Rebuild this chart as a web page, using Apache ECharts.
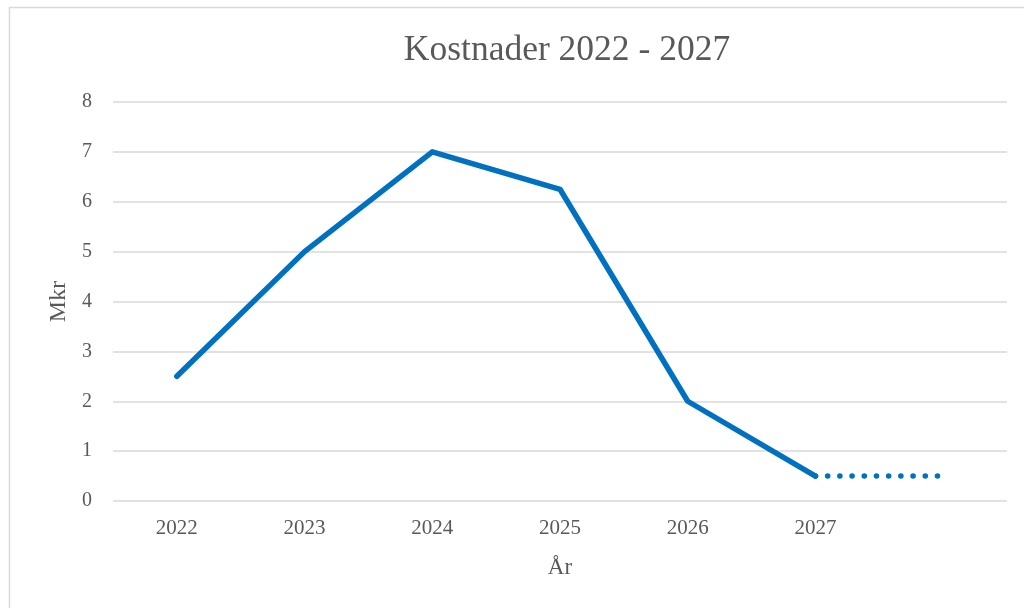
<!DOCTYPE html>
<html>
<head>
<meta charset="utf-8">
<script src="https://cdn.jsdelivr.net/npm/echarts@6/dist/echarts.min.js"></script>
<style>html,body{margin:0;padding:0;background:#fff}#c{width:1024px;height:608px}</style>
</head>
<body>
<div id="c"></div>
<script>
const categories = ['2022', '2023', '2024', '2025', '2026', '2027', ''];
const costs = [2.5, 5, 7, 6.25, 2, 0.5, null];
const projection = [null, null, null, null, null, 0.5, 0.5];
const yTicks = [0, 8, 1];

const font = 'Liberation Serif';
const grey = '#595959';
const chart = echarts.init(document.getElementById('c'));
chart.setOption({
  animation: false,
  backgroundColor: '#fff',
  graphic: [{
    type: 'rect', shape: {x: 9.5, y: 7.5, width: 1040, height: 640},
    style: {fill: 'none', stroke: '#d9d9d9', lineWidth: 1.5}, silent: true
  }],
  title: {
    text: 'Kostnader 2022 - 2027', left: 562, top: 28, textAlign: 'center',
    textStyle: {fontFamily: font, fontSize: 35.5, fontWeight: 'normal', color: grey}
  },
  grid: {left: 113, right: 17, top: 102, bottom: 107},
  xAxis: {
    type: 'category', data: categories, boundaryGap: true,
    name: 'År', nameLocation: 'middle', nameGap: 55,
    nameTextStyle: {fontFamily: font, fontSize: 23, color: grey},
    axisLine: {show: false}, axisTick: {show: false},
    axisLabel: {fontFamily: font, fontSize: 21, color: grey, margin: 17}
  },
  yAxis: {
    type: 'value', min: yTicks[0], max: yTicks[1], interval: yTicks[2],
    name: 'Mkr', nameLocation: 'middle', nameGap: 37,
    nameTextStyle: {fontFamily: font, fontSize: 24, color: grey},
    axisLine: {show: false}, axisTick: {show: false},
    axisLabel: {fontFamily: font, fontSize: 20, color: grey, margin: 21},
    splitLine: {lineStyle: {color: '#d9d9d9', width: 1.5}}
  },
  series: [{
    type: 'line', data: costs, symbol: 'none', connectNulls: false,
    lineStyle: {color: '#0070C0', width: 5.5, cap: 'round', join: 'round'}, z: 3
  }, {
    type: 'line', data: projection, symbol: 'none',
    lineStyle: {color: '#0070C0', width: 5.5, type: [0.1, 12.1], cap: 'round'}, z: 2
  }]
});
</script>
</body>
</html>
